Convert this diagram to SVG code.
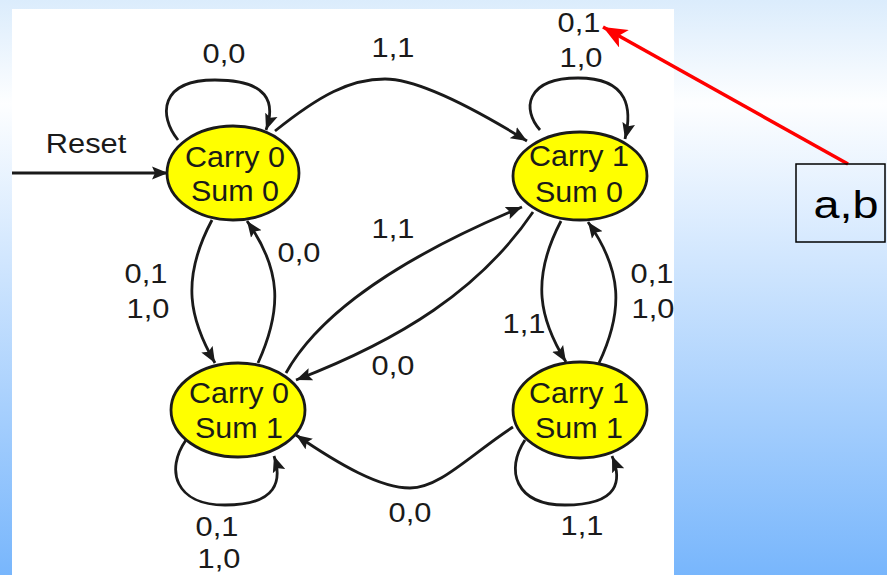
<svg xmlns="http://www.w3.org/2000/svg" width="887" height="575" viewBox="0 0 887 575">
<defs>
<linearGradient id="bg" x1="0" y1="0" x2="0" y2="1">
<stop offset="0" stop-color="#dbecfc"/>
<stop offset="0.18" stop-color="#fdfeff"/>
<stop offset="1" stop-color="#78b6fc"/>
</linearGradient>
<marker id="ah" markerUnits="userSpaceOnUse" markerWidth="17" markerHeight="14" refX="16" refY="7" orient="auto">
<path d="M0,0.5 L16,7 L0,13.5 L3,7 z" fill="#1a1a1a"/>
</marker>
<marker id="rh" markerUnits="userSpaceOnUse" markerWidth="26" markerHeight="20" refX="24" refY="10" orient="auto">
<path d="M0,0 L24,10 L0,20 L6,10 z" fill="#ff0000"/>
</marker>
</defs>
<style>
.edge{fill:none;stroke:#1a1a1a;stroke-width:2.8;marker-end:url(#ah)}
.node ellipse{fill:#ffff00;stroke:#1a1a1a;stroke-width:2.8}
text{font-family:"Liberation Sans",Arial,sans-serif;fill:#1a1a1a;text-anchor:middle}
.nt{font-size:29px}
.lb{font-size:28px}
.ab{font-size:39px;fill:#000}
</style>
<rect x="0" y="0" width="887" height="575" fill="url(#bg)"/>
<rect x="12" y="9" width="662" height="566" fill="#ffffff"/>

<g id="connectors">
<path class="edge" d="M 12 173 L 168 173"/>
<path class="edge" d="M 178 140 C 158 115, 160 80, 215 80 C 268 80, 276 102, 266 130"/>
<path class="edge" d="M 275 131 C 320 95, 350 79, 385 79 C 420 79, 480 112, 527 141"/>
<path class="edge" d="M 540 130 C 522 110, 525 78, 578 78 C 630 78, 632 110, 625 139"/>
<path class="edge" d="M 212 220 C 180 280, 190 320, 215 363"/>
<path class="edge" d="M 258 363 C 282 310, 282 270, 247 221"/>
<path class="edge" d="M 286 373 C 310 330, 370 270, 522 207"/>
<path class="edge" d="M 533 212 C 480 290, 400 340, 296 380"/>
<path class="edge" d="M 561 221 C 530 280, 540 320, 566 362"/>
<path class="edge" d="M 599 363 C 624 310, 622 270, 588 222"/>
<path class="edge" d="M 513 427 C 470 455, 440 488, 410 488 C 380 488, 340 465, 296 435"/>
<path class="edge" d="M 186 440 C 165 470, 175 505, 225 505 C 278 505, 282 480, 274 456"/>
<path class="edge" d="M 525 440 C 505 470, 515 505, 565 505 C 620 505, 622 480, 612 456"/>
<path d="M 848 164 L 603 27" fill="none" stroke="#ff0000" stroke-width="3.5" marker-end="url(#rh)"/>
</g>

<g id="labels">
<text class="lb" transform="translate(86,153) scale(1.1,1)">Reset</text>
<text class="lb" transform="translate(224,63) scale(1.1,1)">0,0</text>
<text class="lb" transform="translate(393,57) scale(1.1,1)">1,1</text>
<text class="lb" transform="translate(579,32) scale(1.1,1)">0,1</text>
<text class="lb" transform="translate(581,67) scale(1.1,1)">1,0</text>
<text class="lb" transform="translate(146,283) scale(1.1,1)">0,1</text>
<text class="lb" transform="translate(148,318) scale(1.1,1)">1,0</text>
<text class="lb" transform="translate(299,262) scale(1.1,1)">0,0</text>
<text class="lb" transform="translate(393,238) scale(1.1,1)">1,1</text>
<text class="lb" transform="translate(393,375) scale(1.1,1)">0,0</text>
<text class="lb" transform="translate(524,333) scale(1.1,1)">1,1</text>
<text class="lb" transform="translate(652,283) scale(1.1,1)">0,1</text>
<text class="lb" transform="translate(653,318) scale(1.1,1)">1,0</text>
<text class="lb" transform="translate(217,536) scale(1.1,1)">0,1</text>
<text class="lb" transform="translate(219,568) scale(1.1,1)">1,0</text>
<text class="lb" transform="translate(410,522) scale(1.1,1)">0,0</text>
<text class="lb" transform="translate(582,535) scale(1.1,1)">1,1</text>
</g>

<g id="c0s0" class="node">
<ellipse cx="233" cy="173" rx="66" ry="47"/>
<text class="nt" transform="translate(235,167) scale(1.05,1)">Carry 0</text>
<text class="nt" transform="translate(235,201) scale(1.05,1)">Sum 0</text>
</g>
<g id="c1s0" class="node">
<ellipse cx="580" cy="176" rx="67" ry="44"/>
<text class="nt" transform="translate(579,166) scale(1.05,1)">Carry 1</text>
<text class="nt" transform="translate(579,202) scale(1.05,1)">Sum 0</text>
</g>
<g id="c0s1" class="node">
<ellipse cx="238" cy="410" rx="67" ry="47"/>
<text class="nt" transform="translate(239,403) scale(1.05,1)">Carry 0</text>
<text class="nt" transform="translate(239,438) scale(1.05,1)">Sum 1</text>
</g>
<g id="c1s1" class="node">
<ellipse cx="580" cy="410" rx="67" ry="48"/>
<text class="nt" transform="translate(579,403) scale(1.05,1)">Carry 1</text>
<text class="nt" transform="translate(579,438) scale(1.05,1)">Sum 1</text>
</g>
<g id="ab">
<rect x="796" y="164" width="89" height="78" fill="none" stroke="#000" stroke-width="1.5"/>
<text class="ab" transform="translate(846,218) scale(1.2,1)">a,b</text>
</g>
</svg>
